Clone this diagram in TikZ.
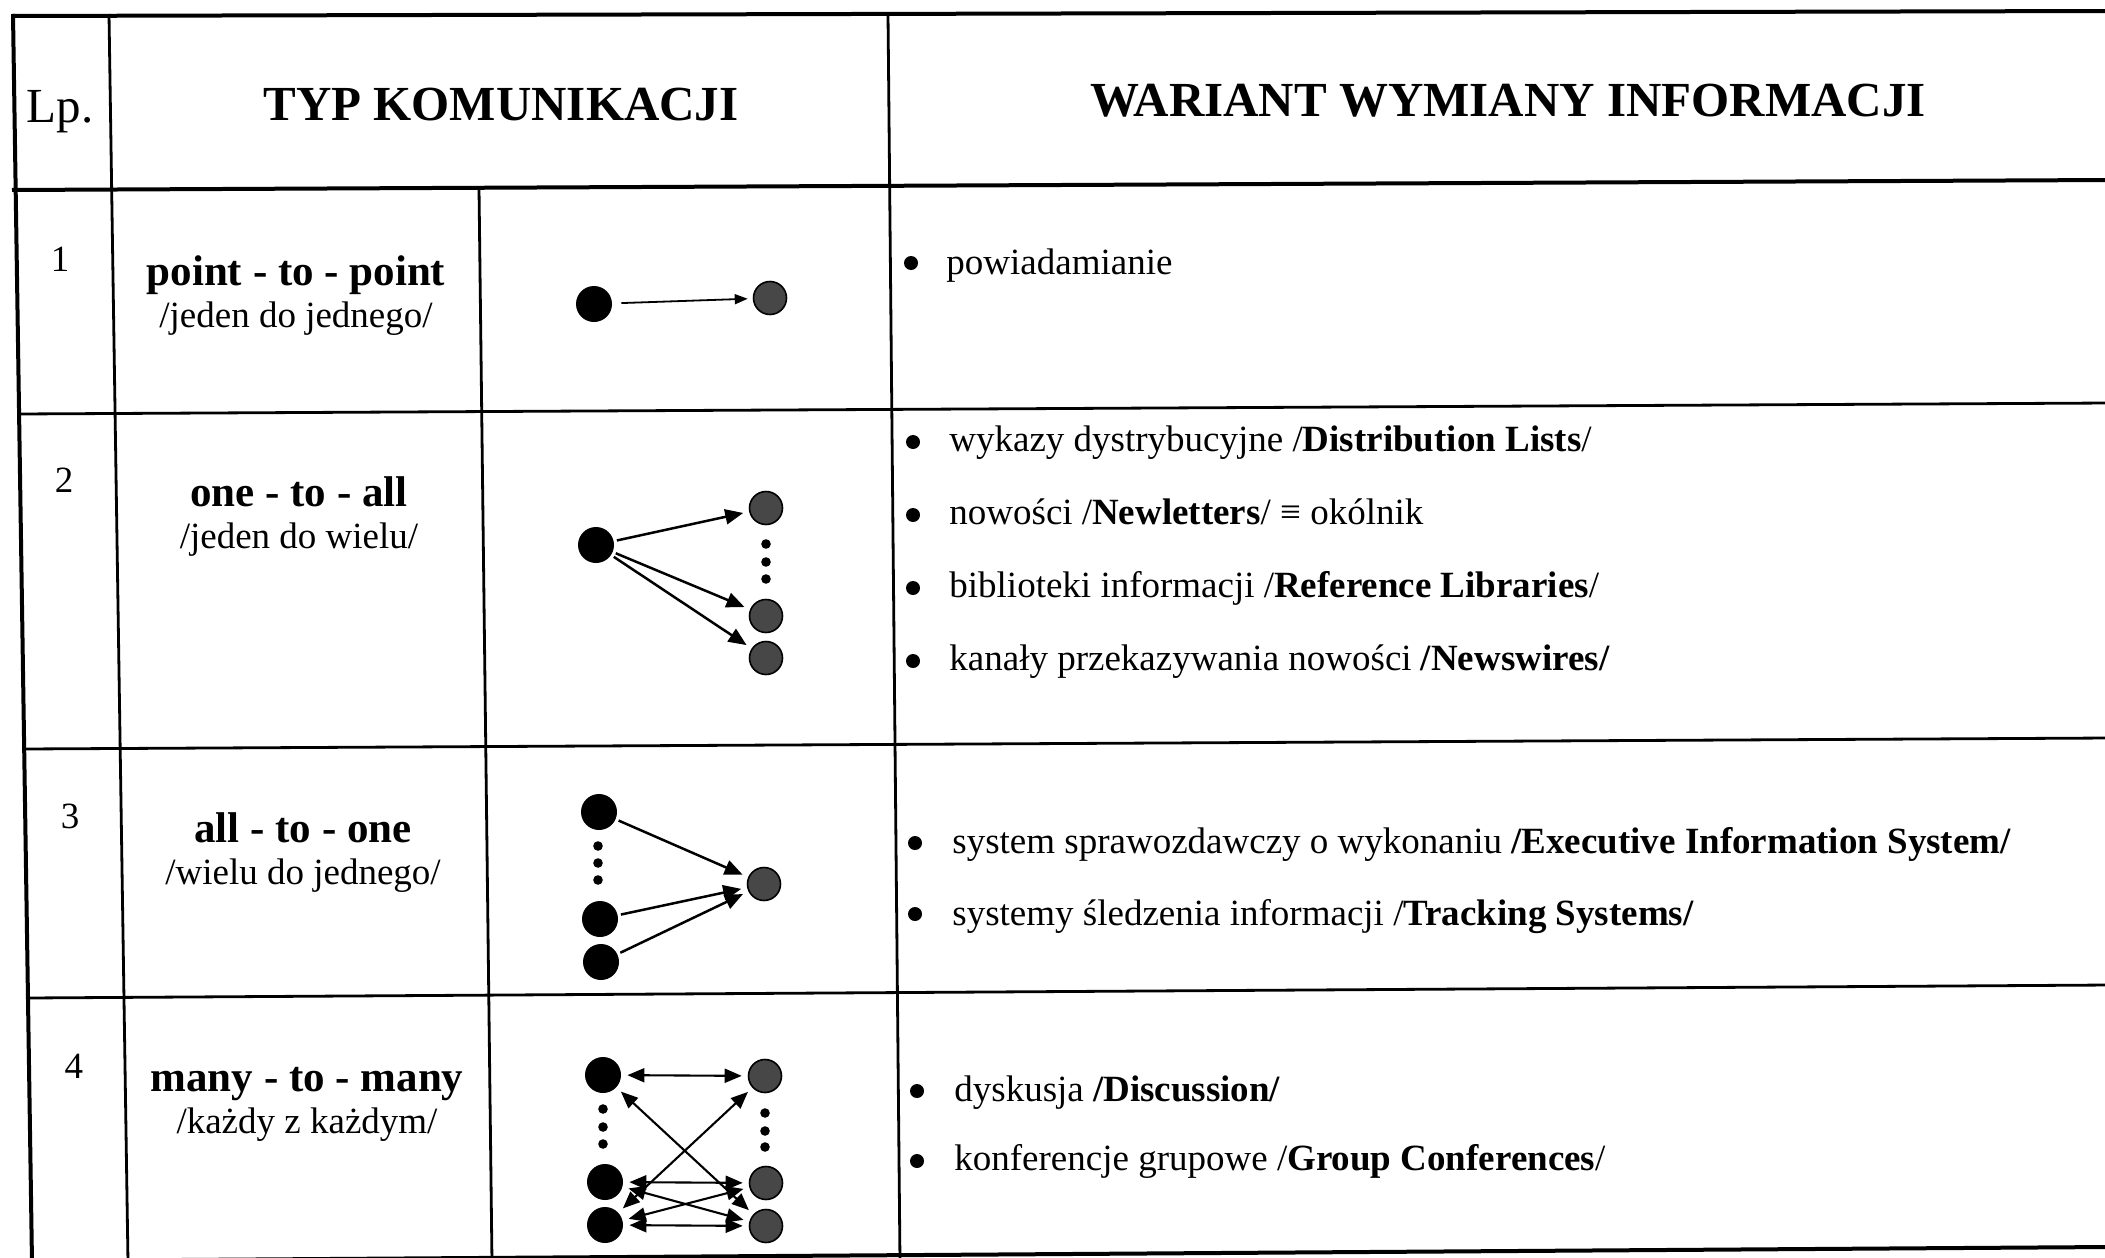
\documentclass[tikz,border=0pt]{standalone}
\usepackage{fontspec}
\setmainfont{Liberation Serif}
\usetikzlibrary{arrows.meta}

\begin{document}
\begin{tikzpicture}[x=0.5pt,y=-0.5pt,
  thickrule/.style={line width=2pt},
  rule/.style={line width=1.4pt},
  hdr/.style={font=\fontsize{24.5}{28}\selectfont\bfseries, inner sep=0pt, anchor=base},
  hdrreg/.style={font=\fontsize{24.5}{28}\selectfont, inner sep=0pt, anchor=base},
  lpnum/.style={font=\fontsize{18.5}{22}\selectfont, inner sep=0pt, anchor=base},
  kind/.style={font=\fontsize{21.5}{25}\selectfont\bfseries, inner sep=0pt, anchor=base},
  kindsub/.style={font=\fontsize{18.5}{22}\selectfont, inner sep=0pt, anchor=base},
  item/.style={font=\fontsize{18.5}{22}\selectfont, inner sep=0pt, anchor=base west},
  bul/.style={circle, fill=black, inner sep=0pt, minimum size=7pt},
  src/.style={circle, fill=black, inner sep=0pt, minimum size=18pt},
  dst/.style={circle, fill=black!72, draw=black, line width=0.8pt, inner sep=0pt, minimum size=16.5pt},
  pip/.style={circle, fill=black, inner sep=0pt, minimum size=4.8pt},
  single/.style={-{Triangle[length=6.5pt,width=5pt]}, line width=0.9pt, shorten <=4.5pt, shorten >=2.5pt},
  fan/.style={-{Triangle[length=9pt,width=7.5pt]}, line width=1.25pt, shorten <=1.5pt, shorten >=3pt},
  mesh/.style={{Triangle[length=8.5pt,width=7pt]}-{Triangle[length=8.5pt,width=7pt]}, line width=1.05pt, shorten <=3pt, shorten >=3pt},
]
\useasboundingbox (0,0) rectangle (2105,1258);
\clip (0,0) rectangle (2105,1258);
\fill[white] (0,0) rectangle (2105,1258);

% table rules
\draw[thickrule] (13,14) -- (32,1262);
\draw[rule] (109,14) -- (128,1262);
\draw[rule] (479,188) -- (492,1262);
\draw[rule] (888,14) -- (900,1262);
\draw[thickrule] (12,16) -- (2110,11);
\draw[thickrule] (12,190) -- (2110,180);
\draw[rule] (18,414) -- (2110,403);
\draw[rule] (23,749) -- (2110,738);
\draw[rule] (27,998) -- (2110,985);
\draw[thickrule] (31,1261) -- (2110,1247);

% header
\node[hdrreg] (hlp) at (60,122) {Lp.};
\node[hdr] (htyp) at (501,120) {TYP KOMUNIKACJI};
\node[hdr] (hwar) at (1508,116) {WARIANT WYMIANY INFORMACJI};

% row numbers
\node[lpnum] (n1) at (60,271) {1};
\node[lpnum] (n2) at (64,492) {2};
\node[lpnum] (n3) at (70,828) {3};
\node[lpnum] (n4) at (74,1078) {4};

% communication types
\node[kind] (k1) at (296,285) {point - to - point};
\node[kindsub] (k1s) at (296,327) {/jeden do jednego/};
\node[kind] (k2) at (299,506) {one - to - all};
\node[kindsub] (k2s) at (299,548) {/jeden do wielu/};
\node[kind] (k3) at (303,842) {all - to - one};
\node[kindsub] (k3s) at (303,884) {/wielu do jednego/};
\node[kind] (k4) at (307,1091) {many - to - many};
\node[kindsub] (k4s) at (307,1133) {/każdy z każdym/};

% variants
\node[bul] (b11) at (911,263) {};
\node[item] (i11) at (946,274) {powiadamianie};

\node[bul] (b21) at (913,442) {};
\node[item] (i21) at (949,451) {wykazy dystrybucyjne /\textbf{Distribution Lists}/};
\node[bul] (b22) at (913,515) {};
\node[item] (i22) at (949,524) {nowości /\textbf{Newletters}/ ≡ okólnik};
\node[bul] (b23) at (913,588) {};
\node[item] (i23) at (949,597) {biblioteki informacji /\textbf{Reference Libraries}/};
\node[bul] (b24) at (913,661) {};
\node[item] (i24) at (949,670) {kanały przekazywania nowości \textbf{/Newswires/}};

\node[bul] (b31) at (915,843) {};
\node[item] (i31) at (952,853) {system sprawozdawczy o wykonaniu \textbf{/Executive Information System/}};
\node[bul] (b32) at (915,914) {};
\node[item] (i32) at (952,925) {systemy śledzenia informacji /\textbf{Tracking Systems/}};

\node[bul] (b41) at (917,1091) {};
\node[item] (i41) at (954,1101) {dyskusja \textbf{/Discussion/}};
\node[bul] (b42) at (917,1161) {};
\node[item] (i42) at (954,1170) {konferencje grupowe /\textbf{Group Conferences}/};

% point-to-point
\node[src] (a1) at (594,304) {};
\node[dst] (c1) at (770,298) {};
\draw[single] (a1) -- (c1);

% one-to-all
\node[src] (s2) at (596,545) {};
\node[dst] (t2a) at (766,508) {};
\node[dst] (t2b) at (766,616) {};
\node[dst] (t2c) at (766,658) {};
\node[pip] (p2a) at (766,544) {};
\node[pip] (p2b) at (766,562) {};
\node[pip] (p2c) at (766,579) {};
\draw[fan] (s2) -- (t2a);
\draw[fan] (s2) -- (t2b);
\draw[fan] (s2) -- (t2c);

% all-to-one
\node[src] (s3a) at (599,812) {};
\node[src] (s3b) at (600,919) {};
\node[src] (s3c) at (601,962) {};
\node[pip] (p3a) at (598,846) {};
\node[pip] (p3b) at (598,863) {};
\node[pip] (p3c) at (598,880) {};
\node[dst] (t3) at (764,884) {};
\draw[fan] (s3a) -- (t3);
\draw[fan] (s3b) -- (t3);
\draw[fan] (s3c) -- (t3);

% many-to-many
\node[src] (L1) at (603,1075) {};
\node[src] (L2) at (605,1182) {};
\node[src] (L3) at (605,1225) {};
\node[pip] (pl1) at (603,1109) {};
\node[pip] (pl2) at (603,1127) {};
\node[pip] (pl3) at (603,1144) {};
\node[dst] (R1) at (765,1076) {};
\node[dst] (R2) at (766,1183) {};
\node[dst] (R3) at (766,1226) {};
\node[pip] (pr1) at (765,1113) {};
\node[pip] (pr2) at (765,1131) {};
\node[pip] (pr3) at (765,1147) {};
\draw[mesh] (L1) -- (R1);
\draw[mesh] (L1) -- (R3);
\draw[mesh] (R1) -- (L3);
\draw[mesh] (L2) -- (R2);
\draw[mesh] (L2) -- (R3);
\draw[mesh] (L3) -- (R2);
\draw[mesh] (L3) -- (R3);
\end{tikzpicture}
\end{document}
